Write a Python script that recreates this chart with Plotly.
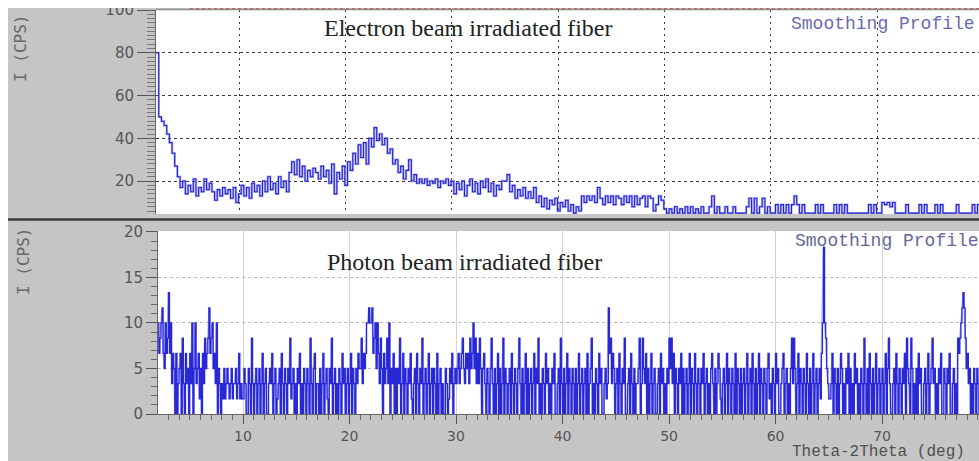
import plotly.graph_objects as go

W, H = 979, 461

# ---------------- data ----------------
# Electron beam irradiated fiber (top panel), 2-theta from 2.2 deg, step 0.25 deg, I in CPS
electron_start = 2.2
electron_step = 0.25
electron_cps = [
    80, 50, 48, 46, 42, 38, 33, 27, 22, 17, 20, 14, 18, 15, 21, 13, 17, 15, 21, 16,
    19, 15, 11, 16, 13, 17, 14, 16, 12, 17, 10, 14, 18, 13, 17, 12, 19, 15, 18, 13,
    20, 15, 22, 16, 19, 14, 22, 17, 20, 15, 24, 29, 23, 30, 22, 27, 20, 25, 22, 26,
    24, 21, 27, 22, 25, 19, 28, 14, 24, 21, 27, 18, 29, 25, 33, 28, 37, 31, 38, 28,
    40, 36, 45, 39, 42, 37, 40, 33, 35, 28, 30, 24, 27, 21, 25, 30, 20, 23, 19, 21,
    19, 21, 18, 20, 19, 21, 17, 20, 19, 21, 18, 20, 14, 19, 16, 20, 13, 18, 21, 15,
    19, 14, 20, 17, 21, 15, 19, 13, 18, 16, 20, 20, 23, 15, 18, 12, 16, 13, 17, 12,
    15, 12, 17, 10, 13, 8, 12, 7, 11, 9, 12, 6, 10, 8, 11, 6, 9, 5, 8, 6,
    13, 10, 13, 11, 13, 10, 17, 12, 9, 13, 10, 13, 9, 13, 12, 9, 13, 10, 13, 8,
    13, 9, 12, 13, 8, 13, 12, 6, 9, 13, 11, 7, 5, 7, 5, 8, 5, 7, 5, 8,
    5, 8, 5, 7, 5, 8, 5, 5, 8, 13, 5, 8, 5, 5, 8, 5, 5, 8, 5, 5,
    5, 5, 8, 12, 5, 12, 5, 8, 12, 5, 8, 5, 5, 9, 5, 9, 5, 9, 5, 9,
    13, 9, 5, 9, 5, 5, 5, 5, 9, 5, 9, 5, 5, 5, 5, 9, 5, 9, 5, 9,
    5, 5, 5, 5, 5, 5, 5, 5, 9, 5, 9, 5, 5, 10, 9, 10, 8, 10, 5, 5,
    5, 5, 9, 5, 5, 5, 5, 9, 5, 9, 5, 5, 5, 9, 5, 9, 5, 5, 5, 5,
    5, 9, 5, 5, 5, 5, 5, 9, 5, 9, 5,
]

# Photon beam irradiated fiber (bottom panel), 2-theta from 2.0 deg, step 0.1 deg, raw counts
photon_start = 2.0
photon_step = 0.1
cps_per_count = 5.0 / 3.0
photon_counts = [
    6, 4, 5, 6, 7, 4, 3, 6, 4, 5, 8, 4, 6, 2, 4, 3, 0, 4, 0, 2, 3, 4, 0, 5, 2, 0, 4, 2, 3, 0, 4, 2, 6, 0, 3, 6, 2, 3, 4, 1, 3, 0, 4, 2, 5, 3, 4, 5, 7, 4,
    5, 6, 3, 4, 2, 6, 0, 3, 2, 0, 2, 1, 3, 1, 2, 3, 2, 1, 2, 3, 1, 2, 2, 3, 1, 2, 4, 1, 2, 1, 1, 3, 2, 0, 0, 3, 2, 0, 5, 2, 0, 2, 3, 0, 2, 3, 0, 2, 4, 0,
    2, 3, 0, 0, 2, 3, 2, 4, 0, 2, 3, 0, 1, 2, 3, 0, 4, 2, 0, 3, 2, 0, 3, 2, 5, 1, 2, 3, 0, 2, 0, 3, 2, 4, 0, 2, 0, 3, 2, 0, 3, 2, 0, 5, 2, 0, 3, 4, 0, 2,
    2, 0, 3, 0, 2, 4, 0, 2, 3, 1, 0, 3, 2, 5, 0, 2, 3, 0, 2, 0, 3, 2, 0, 4, 2, 3, 0, 2, 3, 0, 2, 4, 0, 3, 2, 0, 3, 2, 4, 3, 3, 5, 2, 4, 3, 4, 6, 6, 7, 6,
    6, 7, 4, 5, 6, 3, 6, 4, 2, 5, 3, 0, 4, 2, 3, 5, 2, 6, 0, 3, 2, 4, 0, 3, 0, 3, 2, 5, 0, 2, 4, 0, 3, 2, 0, 3, 2, 4, 1, 0, 2, 3, 0, 4, 2, 0, 3, 2, 5, 0,
    2, 3, 0, 2, 4, 0, 2, 3, 0, 3, 2, 0, 4, 0, 2, 3, 0, 2, 0, 0, 3, 2, 0, 1, 3, 2, 4, 0, 2, 3, 2, 3, 4, 2, 3, 4, 5, 3, 2, 4, 3, 4, 2, 5, 3, 4, 6, 3, 5, 2,
    4, 2, 5, 3, 0, 3, 4, 2, 0, 3, 2, 0, 3, 5, 2, 0, 3, 0, 2, 4, 0, 3, 0, 2, 5, 0, 3, 2, 0, 2, 3, 0, 4, 2, 0, 3, 2, 0, 3, 5, 2, 0, 3, 0, 2, 4, 0, 3, 0, 2,
    3, 0, 2, 4, 0, 3, 2, 5, 0, 2, 0, 3, 2, 0, 4, 2, 3, 0, 2, 0, 3, 2, 4, 0, 0, 2, 3, 0, 5, 2, 0, 3, 0, 2, 4, 0, 3, 2, 0, 3, 2, 0, 3, 0, 2, 4, 0, 2, 3, 0,
    2, 3, 0, 4, 0, 2, 3, 5, 0, 2, 0, 3, 2, 0, 4, 2, 3, 0, 0, 2, 3, 1, 2, 7, 4, 5, 2, 4, 3, 0, 2, 3, 0, 4, 2, 0, 3, 2, 5, 0, 0, 2, 3, 0, 4, 2, 0, 3, 0, 2,
    2, 3, 5, 0, 2, 5, 3, 2, 4, 0, 3, 0, 2, 4, 0, 2, 3, 0, 0, 2, 3, 0, 4, 2, 3, 0, 2, 0, 3, 2, 5, 3, 5, 2, 4, 0, 3, 2, 0, 3, 2, 4, 0, 3, 0, 2, 3, 0, 2, 4,
    0, 3, 2, 0, 4, 2, 0, 3, 2, 0, 3, 2, 4, 0, 2, 3, 0, 2, 0, 3, 4, 2, 0, 3, 0, 2, 4, 3, 1, 0, 2, 3, 0, 2, 4, 0, 3, 2, 0, 3, 2, 0, 4, 0, 3, 2, 0, 3, 0, 2,
    3, 0, 2, 4, 0, 2, 3, 0, 4, 2, 0, 3, 0, 2, 4, 0, 3, 2, 0, 3, 2, 0, 3, 4, 1, 2, 0, 3, 2, 0, 4, 2, 3, 0, 0, 2, 3, 4, 0, 2, 3, 0, 2, 0, 3, 5, 2, 5, 3, 0,
    2, 4, 0, 3, 2, 0, 3, 2, 0, 4, 2, 0, 3, 0, 2, 4, 0, 2, 3, 0, 2, 3, 1, 4, 6, 11, 6, 5, 3, 2, 1, 1, 2, 4, 0, 3, 2, 0, 3, 0, 2, 4, 3, 0, 2, 0, 3, 2, 4, 0,
    3, 0, 2, 0, 4, 2, 3, 0, 2, 0, 3, 2, 0, 5, 2, 0, 3, 0, 4, 2, 0, 3, 0, 2, 4, 0, 2, 3, 0, 2, 3, 0, 2, 4, 0, 3, 5, 2, 0, 0, 2, 3, 0, 4, 2, 0, 3, 2, 0, 3,
    2, 4, 0, 5, 3, 2, 0, 5, 3, 0, 2, 0, 3, 0, 4, 2, 3, 0, 0, 2, 3, 0, 2, 4, 0, 2, 3, 5, 2, 3, 0, 2, 0, 3, 2, 4, 0, 0, 3, 2, 0, 3, 2, 4, 0, 0, 2, 3, 0, 2,
    0, 5, 4, 5, 6, 7, 8, 7, 5, 3, 4, 2, 3, 0, 2, 0, 3, 2, 0, 3, 2, 0,
]

x_ticks = [10, 20, 30, 40, 50, 60, 70]
top_y_ticks = [20, 40, 60, 80, 100]
bottom_y_ticks = [0, 5, 10, 15, 20]

electron_x = [round(electron_start + electron_step * i, 3) for i in range(len(electron_cps))]
photon_x = [round(photon_start + photon_step * i, 3) for i in range(len(photon_counts))]
photon_cps = [c * cps_per_count for c in photon_counts]

# ---------------- figure ----------------
def px_x(p):
    return p / W

def px_y(p):
    return (H - p) / H

TICK_FONT = dict(family="DejaVu Sans", size=15, color="#555555")
X_TICK_FONT = dict(family="DejaVu Sans", size=14, color="#555555")

fig = go.Figure()
# light halo + dark step line (mimics the scanned trace look)
fig.add_trace(go.Scatter(x=photon_x, y=photon_cps, mode="lines", line=dict(color="rgba(110,110,255,0.55)", width=1.4),
                         xaxis="x", yaxis="y", showlegend=False, hoverinfo="skip"))
fig.add_trace(go.Scatter(x=photon_x, y=photon_cps, mode="lines", line=dict(color="rgb(40,40,215)", width=1.3, shape="hv"),
                         xaxis="x", yaxis="y", showlegend=False, hoverinfo="skip"))
fig.add_trace(go.Scatter(x=electron_x, y=electron_cps, mode="lines", line=dict(color="rgba(120,120,255,0.55)", width=2.4, shape="hv"),
                         xaxis="x2", yaxis="y2", showlegend=False, hoverinfo="skip"))
fig.add_trace(go.Scatter(x=electron_x, y=electron_cps, mode="lines", line=dict(color="rgb(35,35,200)", width=1.1, shape="hv"),
                         xaxis="x2", yaxis="y2", showlegend=False, hoverinfo="skip"))

fig.update_layout(
    width=W, height=H,
    margin=dict(l=0, r=0, t=0, b=0, pad=0, autoexpand=False),
    paper_bgcolor="#c5c5c5",
    plot_bgcolor="white",
    showlegend=False,
    xaxis=dict(
        domain=[px_x(158), 1.0], range=[2.02, 79.1], anchor="y", automargin=False,
        tickmode="array", tickvals=x_ticks, ticks="outside", ticklen=9, tickwidth=1.2, tickcolor="#555",
        minor=dict(dtick=1, tick0=0, ticks="outside", ticklen=5, tickcolor="#666", showgrid=False),
        showline=True, linecolor="#666", linewidth=1,
        showgrid=True, gridcolor="#d2d2d2", gridwidth=1,
        zeroline=False, tickfont=X_TICK_FONT,
    ),
    yaxis=dict(
        domain=[px_y(414), px_y(231)], range=[0, 20.1], anchor="x", automargin=False,
        tickmode="array", tickvals=bottom_y_ticks, ticks="outside", ticklen=11, tickwidth=1.2, tickcolor="#555",
        minor=dict(dtick=1, tick0=0, ticks="outside", ticklen=6, tickcolor="#666", showgrid=False),
        showline=True, linecolor="#666", linewidth=1,
        showgrid=True, gridcolor="#b8b8b8", griddash="dot", gridwidth=1,
        zeroline=False, tickfont=TICK_FONT,
    ),
    xaxis2=dict(
        domain=[px_x(156), 1.0], range=[2.19, 79.59], anchor="y2", automargin=False,
        tickmode="array", tickvals=x_ticks, showticklabels=False, ticks="",
        showline=False,
        showgrid=True, gridcolor="#3a3a3a", griddash="2px,4px", gridwidth=1,
        zeroline=False,
    ),
    yaxis2=dict(
        domain=[px_y(214), px_y(10)], range=[4.6, 100], anchor="x2", automargin=False,
        tickmode="array", tickvals=top_y_ticks, ticks="outside", ticklen=18, tickwidth=1.2, tickcolor="#555",
        minor=dict(dtick=2, tick0=0, ticks="outside", ticklen=8, tickcolor="#777", showgrid=False),
        showline=True, linecolor="#666", linewidth=1,
        showgrid=True, gridcolor="#3a3a3a", griddash="3px,3px", gridwidth=1,
        zeroline=False, tickfont=TICK_FONT,
    ),
)

shapes = [
    # white outer border (left and top)
    dict(type="rect", xref="paper", yref="paper", x0=0, x1=px_x(8), y0=0, y1=1,
         fillcolor="white", line=dict(width=0), layer="above"),
    dict(type="rect", xref="paper", yref="paper", x0=0, x1=1, y0=px_y(8), y1=1,
         fillcolor="white", line=dict(width=0), layer="above"),
    # top frame of the upper panel
    dict(type="line", xref="paper", yref="paper", x0=px_x(156), x1=1, y0=px_y(9.5), y1=px_y(9.5),
         line=dict(color="#8a8a8a", width=1.5), layer="above"),
    dict(type="line", xref="paper", yref="paper", x0=px_x(190), x1=1, y0=px_y(8.6), y1=px_y(8.6),
         line=dict(color="rgba(205,60,60,0.75)", width=1, dash="3px,3px"), layer="above"),
    # divider between the two panels
    dict(type="line", xref="paper", yref="paper", x0=px_x(8), x1=1, y0=px_y(219.5), y1=px_y(219.5),
         line=dict(color="#3c3c3c", width=2.5), layer="above"),
]
fig.update_layout(shapes=shapes)

annotations = [
    dict(text="Electron beam irradiated fiber", x=px_x(468), y=px_y(28), xref="paper", yref="paper",
         xanchor="center", yanchor="middle", showarrow=False,
         font=dict(family="Liberation Serif", size=24, color="#222")),
    dict(text="Photon beam irradiated fiber", x=px_x(464), y=px_y(262), xref="paper", yref="paper",
         xanchor="center", yanchor="middle", showarrow=False,
         font=dict(family="Liberation Serif", size=24, color="#222")),
    dict(text="Smoothing Profile", x=px_x(789), y=px_y(24), xref="paper", yref="paper",
         xanchor="left", yanchor="middle", showarrow=False,
         font=dict(family="Liberation Mono", size=18, color="#6a6ab0")),
    dict(text="Smoothing Profile", x=px_x(793), y=px_y(241), xref="paper", yref="paper",
         xanchor="left", yanchor="middle", showarrow=False,
         font=dict(family="Liberation Mono", size=18, color="#66669a")),
    dict(text="Theta-2Theta (deg)", x=px_x(790), y=px_y(451.5), xref="paper", yref="paper",
         xanchor="left", yanchor="middle", showarrow=False,
         font=dict(family="Liberation Mono", size=16, color="#505050")),
    dict(text="I (CPS)", x=px_x(20), y=px_y(49), xref="paper", yref="paper", textangle=-90,
         xanchor="center", yanchor="middle", showarrow=False,
         font=dict(family="DejaVu Sans Mono", size=16, color="#666")),
    dict(text="I (CPS)", x=px_x(23), y=px_y(262), xref="paper", yref="paper", textangle=-90,
         xanchor="center", yanchor="middle", showarrow=False,
         font=dict(family="DejaVu Sans Mono", size=16, color="#666")),
]
fig.update_layout(annotations=annotations)

fig.write_html("out.html")
